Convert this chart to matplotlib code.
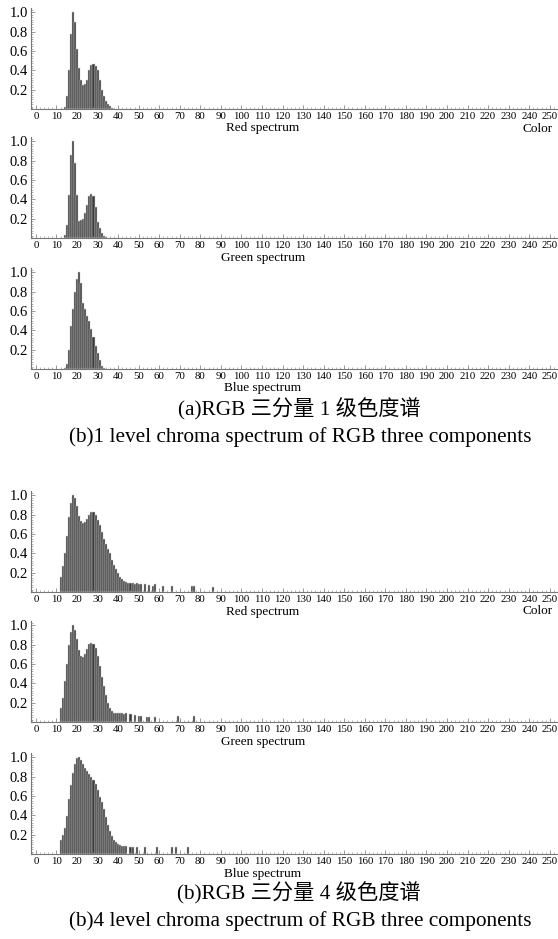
import matplotlib
matplotlib.use("Agg")
import matplotlib.pyplot as plt
from matplotlib.ticker import MultipleLocator, FixedLocator

# ---------------- data ----------------
# level-1 spectra (bin index -> normalized height)
red1_x = list(range(14, 39))
red1_y = [0.02, 0.13, 0.40, 0.78, 1.00, 0.90, 0.62, 0.42, 0.30, 0.25, 0.26, 0.30,
          0.40, 0.46, 0.47, 0.44, 0.40, 0.30, 0.20, 0.13, 0.08, 0.05, 0.03, 0.01, 0.005]
green1_x = list(range(14, 35))
green1_y = [0.03, 0.13, 0.44, 0.86, 1.00, 0.78, 0.45, 0.18, 0.19, 0.20, 0.26, 0.34,
            0.43, 0.46, 0.43, 0.32, 0.17, 0.10, 0.05, 0.02, 0.01]
blue1_x = list(range(14, 34))
blue1_y = [0.01, 0.05, 0.20, 0.45, 0.62, 0.80, 0.93, 1.00, 0.89, 0.68, 0.62, 0.55,
           0.50, 0.41, 0.33, 0.24, 0.17, 0.09, 0.03, 0.01]

# level-4 spectra
red4_x = list(range(12, 52)) + [53, 55, 57, 58, 62, 66, 76, 77, 86]
red4_y = [0.16, 0.27, 0.40, 0.58, 0.78, 0.92, 1.00, 0.97, 0.89, 0.79, 0.73, 0.71,
          0.72, 0.76, 0.80, 0.83, 0.83, 0.80, 0.75, 0.69, 0.62, 0.55, 0.50, 0.45,
          0.40, 0.33, 0.28, 0.24, 0.20, 0.16, 0.135, 0.11, 0.10, 0.095, 0.09, 0.09,
          0.08, 0.09, 0.08, 0.08,
          0.08, 0.07, 0.06, 0.08, 0.06, 0.06, 0.06, 0.06, 0.05]
green4_x = list(range(12, 45)) + [46, 48, 50, 51, 54, 55, 58, 69, 77]
green4_y = [0.15, 0.25, 0.42, 0.60, 0.80, 0.93, 1.00, 0.95, 0.86, 0.75, 0.68, 0.67,
            0.70, 0.76, 0.81, 0.82, 0.81, 0.77, 0.68, 0.58, 0.47, 0.37, 0.28, 0.20,
            0.14, 0.11, 0.09, 0.09, 0.09, 0.09, 0.09, 0.08, 0.09,
            0.08, 0.07, 0.06, 0.06, 0.05, 0.05, 0.05, 0.06, 0.06]
blue4_x = list(range(12, 45)) + [46, 47, 49, 53, 59, 66, 68, 74]
blue4_y = [0.14, 0.20, 0.27, 0.39, 0.57, 0.71, 0.84, 0.93, 0.99, 1.00, 0.97, 0.93,
           0.89, 0.86, 0.83, 0.80, 0.77, 0.72, 0.66, 0.59, 0.54, 0.47, 0.38, 0.30,
           0.24, 0.19, 0.15, 0.12, 0.10, 0.09, 0.08, 0.08, 0.08,
           0.07, 0.07, 0.07, 0.07, 0.07, 0.07, 0.07, 0.07]

x_ticks = list(range(0, 251, 10))
y_ticks = [0.2, 0.4, 0.6, 0.8, 1.0]
y_tick_labels = ["0.2", "0.4", "0.6", "0.8", "1.0"]

captions = [
    ("(a)RGB 三分量 1 级色度谱", "(b)1 level chroma spectrum of RGB three components"),
    ("(b)RGB 三分量 4 级色度谱", "(b)4 level chroma spectrum of RGB three components"),
]
names = ["Red spectrum", "Green spectrum", "Blue spectrum"]

# ---------------- figure ----------------
W, H = 558, 939
fig = plt.figure(figsize=(W / 100, H / 100), dpi=100)
fig.patch.set_facecolor("white")
serif = ["Liberation Serif", "Noto Sans CJK SC", "DejaVu Serif"]

panels = [
    (red1_x, red1_y, 109, 0, True),
    (green1_x, green1_y, 238, 1, False),
    (blue1_x, blue1_y, 369, 2, False),
    (red4_x, red4_y, 592, 0, True),
    (green4_x, green4_y, 722, 1, False),
    (blue4_x, blue4_y, 854, 2, False),
]

x_left, x_right = 31, 558
ax_h_px = 101

for xs, ys, base_px, ni, show_color in panels:
    ax = fig.add_axes([x_left / W, 1 - base_px / H, (x_right - x_left) / W, ax_h_px / H])
    ax.bar(xs, ys, width=1.0, color="#3a3a3a", edgecolor="#d0d0d0", linewidth=0.35, align="center")
    ax.set_xlim(-2.4, 254)
    ax.set_ylim(0, 1.045)
    for s in ["top", "right"]:
        ax.spines[s].set_visible(False)
    ax.spines["left"].set_color("#777777")
    ax.spines["bottom"].set_color("#777777")
    ax.spines["left"].set_linewidth(0.8)
    ax.spines["bottom"].set_linewidth(0.8)
    ax.xaxis.set_major_locator(FixedLocator(x_ticks))
    ax.xaxis.set_minor_locator(MultipleLocator(2))
    ax.yaxis.set_major_locator(FixedLocator(y_ticks))
    ax.yaxis.set_minor_locator(MultipleLocator(0.025))
    ax.set_xticklabels([str(t) for t in x_ticks], fontsize=7.8, family=serif)
    ax.set_yticklabels(y_tick_labels, fontsize=10.5, family=serif)
    ax.tick_params(axis="x", which="major", direction="in", length=3, width=0.6,
                   color="#888888", pad=2)
    ax.tick_params(axis="x", which="minor", direction="in", length=1.5, width=0.5,
                   color="#999999")
    ax.tick_params(axis="y", which="major", direction="in", length=3, width=0.6,
                   color="#888888", pad=2)
    ax.tick_params(axis="y", which="minor", direction="in", length=1.5, width=0.5,
                   color="#999999")
    ax.set_facecolor("none")
    # axis name
    fig.text(263 / W, 1 - (base_px + 19.5) / H, names[ni], ha="center", va="center",
             fontsize=9.5, family=serif)
    if show_color:
        fig.text(553 / W, 1 - (base_px + 19.5) / H, "Color", ha="right", va="center",
                 fontsize=9.5, family=serif)

for (cn, en), y1, y2 in zip(captions, [409, 893], [437, 921]):
    fig.text(299 / W, 1 - y1 / H, cn, ha="center", va="center", fontsize=15.3, family=serif)
    fig.text(300 / W, 1 - y2 / H, en, ha="center", va="center", fontsize=15.3, family=serif)

fig.savefig("out.png", dpi=100, facecolor="white")
